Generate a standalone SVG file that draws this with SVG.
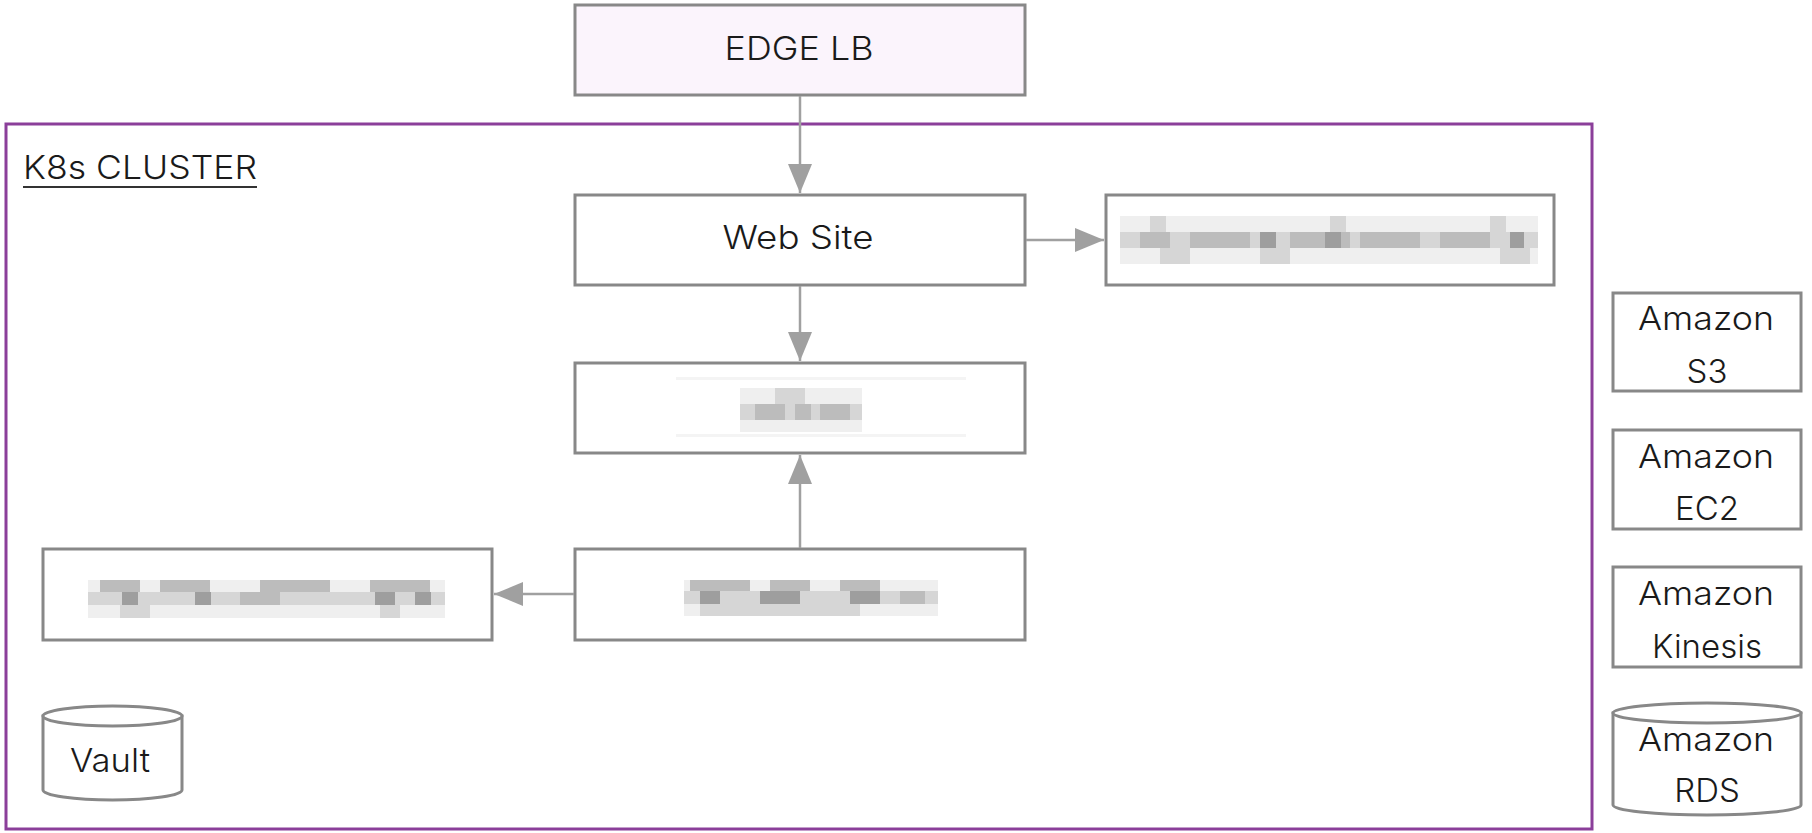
<svg xmlns="http://www.w3.org/2000/svg" width="1812" height="833" viewBox="0 0 1812 833">
<style>
.box{fill:#ffffff;stroke:#888888;stroke-width:3}
.edge{fill:#fbf4fc;stroke:#888888;stroke-width:3}
.cluster{fill:#ffffff;stroke:#8b3f9a;stroke-width:3}
.lbl{font-family:Inter,"Liberation Sans",sans-serif;font-size:33px;font-weight:300;fill:#1a1a1a;text-anchor:middle}
.conn{stroke:#a0a0a0;stroke-width:2.5;fill:none;marker-end:url(#arr)}
.m0{fill:#efefef}.m1{fill:#d6d6d6}.m2{fill:#bcbcbc}.m3{fill:#9e9e9e}
</style>
<defs>
<marker id="arr" markerUnits="userSpaceOnUse" markerWidth="30" markerHeight="26" viewBox="0 0 30 26" refX="29" refY="13" orient="auto">
<path d="M0,1 L29,13 L0,25 Z" fill="#a0a0a0"/>
</marker>
</defs>
<rect width="1812" height="833" fill="#ffffff"/>
<g id="k8s-cluster">
<rect class="cluster" x="6" y="124" width="1586" height="705"/>
<text x="23" y="179" style="font-family:Inter,'Liberation Sans',sans-serif;font-size:33px;font-weight:300;fill:#1a1a1a" textLength="234" lengthAdjust="spacingAndGlyphs">K8s CLUSTER</text>
<rect x="23" y="186" width="234" height="2" fill="#333333"/>
</g>
<g id="edge-lb">
<rect class="edge" x="575" y="5" width="450" height="90"/>
<text class="lbl" x="799" y="60" textLength="149" lengthAdjust="spacingAndGlyphs">EDGE LB</text>
</g>
<g id="web-site">
<rect class="box" x="575" y="195" width="450" height="90"/>
<text class="lbl" x="798" y="249" textLength="151" lengthAdjust="spacingAndGlyphs">Web Site</text>
</g>
<g id="redacted-right">
<rect class="box" x="1106" y="195" width="448" height="90"/>
<rect class="m0" x="1120" y="216" width="418" height="48"/>
<rect class="m1" x="1120" y="232" width="418" height="16"/>
<rect class="m2" x="1140" y="232" width="30" height="16"/>
<rect class="m2" x="1190" y="232" width="60" height="16"/>
<rect class="m3" x="1260" y="232" width="16" height="16"/>
<rect class="m2" x="1290" y="232" width="60" height="16"/>
<rect class="m3" x="1325" y="232" width="16" height="16"/>
<rect class="m2" x="1360" y="232" width="60" height="16"/>
<rect class="m2" x="1440" y="232" width="50" height="16"/>
<rect class="m3" x="1510" y="232" width="14" height="16"/>
<rect class="m1" x="1150" y="216" width="16" height="16"/>
<rect class="m1" x="1330" y="216" width="16" height="16"/>
<rect class="m1" x="1490" y="216" width="16" height="16"/>
<rect class="m1" x="1160" y="248" width="30" height="16"/>
<rect class="m1" x="1260" y="248" width="30" height="16"/>
<rect class="m1" x="1500" y="248" width="30" height="16"/>
</g>
<g id="redacted-middle">
<rect class="box" x="575" y="363" width="450" height="90"/>
<rect x="676" y="377" width="290" height="3" fill="#f4f4f4"/>
<rect x="676" y="434" width="290" height="3" fill="#f4f4f4"/>
<rect class="m0" x="740" y="388" width="122" height="44"/>
<rect class="m1" x="740" y="404" width="122" height="16"/>
<rect class="m2" x="755" y="404" width="30" height="16"/>
<rect class="m2" x="795" y="404" width="16" height="16"/>
<rect class="m2" x="820" y="404" width="30" height="16"/>
<rect class="m1" x="775" y="388" width="30" height="16"/>
</g>
<g id="redacted-left">
<rect class="box" x="43" y="549" width="449" height="91"/>
<rect class="m0" x="88" y="580" width="357" height="38"/>
<rect class="m1" x="88" y="592" width="357" height="13"/>
<rect class="m2" x="100" y="580" width="40" height="12"/>
<rect class="m2" x="160" y="580" width="50" height="12"/>
<rect class="m2" x="260" y="580" width="70" height="12"/>
<rect class="m2" x="370" y="580" width="60" height="12"/>
<rect class="m3" x="122" y="592" width="16" height="13"/>
<rect class="m3" x="195" y="592" width="16" height="13"/>
<rect class="m2" x="240" y="592" width="40" height="13"/>
<rect class="m3" x="375" y="592" width="20" height="13"/>
<rect class="m3" x="415" y="592" width="16" height="13"/>
<rect class="m1" x="120" y="605" width="30" height="13"/>
<rect class="m1" x="380" y="605" width="20" height="13"/>
</g>
<g id="redacted-bottom">
<rect class="box" x="575" y="549" width="450" height="91"/>
<rect class="m0" x="684" y="580" width="254" height="36"/>
<rect class="m1" x="684" y="591" width="254" height="13"/>
<rect class="m2" x="690" y="580" width="60" height="11"/>
<rect class="m2" x="770" y="580" width="40" height="11"/>
<rect class="m2" x="840" y="580" width="40" height="11"/>
<rect class="m3" x="700" y="591" width="20" height="13"/>
<rect class="m3" x="760" y="591" width="40" height="13"/>
<rect class="m3" x="850" y="591" width="30" height="13"/>
<rect class="m2" x="900" y="591" width="25" height="13"/>
<rect class="m1" x="700" y="604" width="160" height="12"/>
</g>
<g id="vault">
<path d="M43,716 L43,790 A69.5,10 0 0 0 182,790 L182,716 Z" fill="#ffffff" stroke="#888888" stroke-width="3"/>
<ellipse cx="112.5" cy="716" rx="69.5" ry="10" fill="#ffffff" stroke="#888888" stroke-width="3"/>
<text class="lbl" x="110" y="772" textLength="80" lengthAdjust="spacingAndGlyphs">Vault</text>
</g>
<g id="amazon-s3">
<rect class="box" x="1613" y="293" width="188" height="98"/>
<text class="lbl" x="1706" y="330" textLength="136" lengthAdjust="spacingAndGlyphs">Amazon</text>
<text class="lbl" x="1707" y="383">S3</text>
</g>
<g id="amazon-ec2">
<rect class="box" x="1613" y="430" width="188" height="99"/>
<text class="lbl" x="1706" y="468" textLength="136" lengthAdjust="spacingAndGlyphs">Amazon</text>
<text class="lbl" x="1707" y="520">EC2</text>
</g>
<g id="amazon-kinesis">
<rect class="box" x="1613" y="567" width="188" height="100"/>
<text class="lbl" x="1706" y="605" textLength="136" lengthAdjust="spacingAndGlyphs">Amazon</text>
<text class="lbl" x="1707" y="658">Kinesis</text>
</g>
<g id="amazon-rds">
<path d="M1613,713 L1613,805 A94,10 0 0 0 1801,805 L1801,713 Z" fill="#ffffff" stroke="#888888" stroke-width="3"/>
<ellipse cx="1707" cy="713" rx="94" ry="10" fill="#ffffff" stroke="#888888" stroke-width="3"/>
<text class="lbl" x="1706" y="751" textLength="136" lengthAdjust="spacingAndGlyphs">Amazon</text>
<text class="lbl" x="1707" y="802">RDS</text>
</g>
<g id="connectors">
<line class="conn" x1="800" y1="96" x2="800" y2="193"/>
<line class="conn" x1="800" y1="286" x2="800" y2="361"/>
<line class="conn" x1="1026" y1="240" x2="1104" y2="240"/>
<line class="conn" x1="800" y1="548" x2="800" y2="455"/>
<line class="conn" x1="574" y1="594" x2="494" y2="594"/>
</g>
</svg>
